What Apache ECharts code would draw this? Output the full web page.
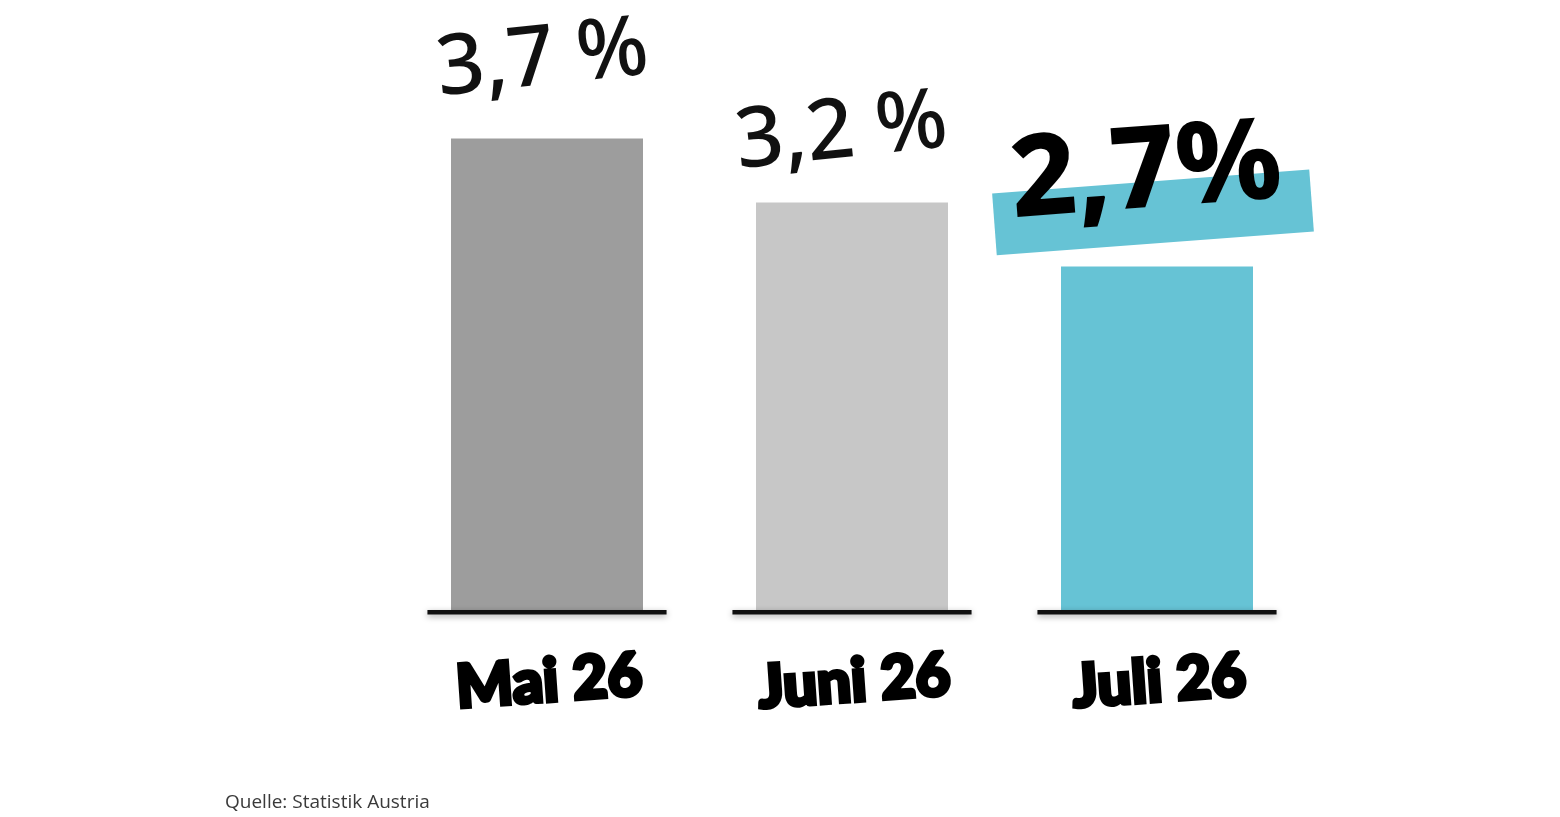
<!DOCTYPE html>
<html>
<head>
<meta charset="utf-8">
<script src="https://cdn.jsdelivr.net/npm/echarts@6/dist/echarts.min.js"></script>
<style>
html,body{margin:0;padding:0;background:#fff;}
#chart{width:1560px;height:817px;}
</style>
</head>
<body>
<div id="chart"></div>
<script>
const categories = ['Mai 26', 'Juni 26', 'Juli 26'];
const values = [3.7, 3.2, 2.7];
const valueLabels = ['3,7 %', '3,2 %', '2,7%'];
const barColors = ['#9d9d9d', '#c7c7c7', '#66c3d5'];
const sourceText = 'Quelle: Statistik Austria';

const chart = echarts.init(document.getElementById('chart'));

const barData = values.map((v, i) => {
  const isLast = i === values.length - 1;
  return {
    value: v,
    itemStyle: { color: barColors[i] },
    label: {
      show: !isLast,
      formatter: valueLabels[i],
      distance: i === 0 ? 36 : 28,
      offset: [i === 1 ? -6 : 0, 0]
    }
  };
});

const option = {
  backgroundColor: '#ffffff',
  animation: false,
  title: {
    text: sourceText,
    left: 220,
    top: 788,
    textStyle: {
      fontFamily: 'Open Sans',
      fontSize: 19,
      fontWeight: 'normal',
      color: '#3a3a3a'
    }
  },
  grid: { left: 394.5, right: 250.5, top: 100, bottom: 205 },
  xAxis: {
    type: 'category',
    data: categories,
    axisLine: { show: false },
    axisTick: { show: false },
    axisLabel: {
      margin: 40,
      rotate: 4,
      align: 'center',
      verticalAlign: 'top',
      fontFamily: 'Lato',
      fontWeight: 900,
      fontSize: 60,
      color: '#000',
      textBorderColor: '#000',
      textBorderWidth: 4
    }
  },
  yAxis: {
    type: 'value',
    min: 0,
    max: 4,
    show: false,
    splitLine: { show: false }
  },
  series: [
    {
      type: 'bar',
      data: barData,
      barWidth: 192,
      z: 2,
      label: {
        position: 'top',
        rotate: 6,
        fontFamily: 'Noto Sans',
        fontWeight: 500,
        fontSize: 84,
        color: '#111'
      },
      markPoint: {
        silent: true,
        data: [{
          coord: [categories[2], values[2]],
          symbol: 'rect',
          symbolSize: [318, 62],
          symbolRotate: 4.3,
          symbolOffset: [-4, -54],
          itemStyle: { color: '#66c3d5' },
          label: {
            show: true,
            formatter: valueLabels[2],
            offset: [-4, -38],
            rotate: 4.3,
            fontFamily: 'Noto Sans',
            fontWeight: 800,
            fontSize: 114,
            color: '#000'
          }
        }]
      }
    },
    {
      type: 'custom',
      z: 5,
      data: categories.map((c, i) => [i]),
      renderItem: function (params, api) {
        const p = api.coord([api.value(0), 0]);
        const w = api.size([1, 0])[0] * 0.784;
        return {
          type: 'rect',
          shape: { x: p[0] - w / 2, y: p[1] - 2, width: w, height: 4.5 },
          style: {
            fill: '#111',
            shadowBlur: 6,
            shadowColor: 'rgba(0,0,0,0.35)',
            shadowOffsetY: 2
          }
        };
      }
    }
  ]
};
chart.setOption(option);
</script>
</body>
</html>
